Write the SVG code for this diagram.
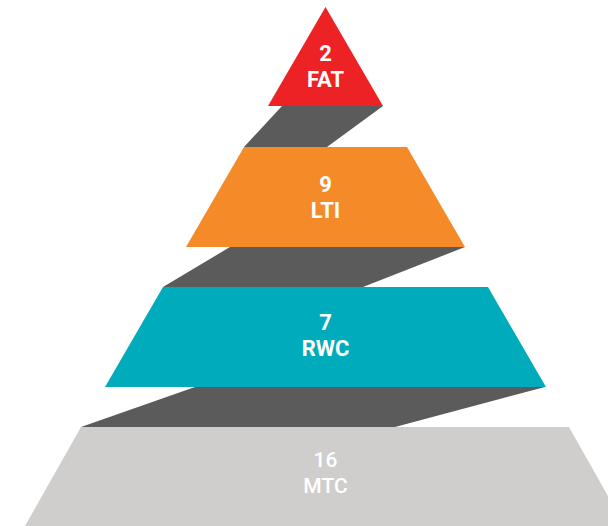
<svg xmlns="http://www.w3.org/2000/svg" width="608" height="526" viewBox="0 0 608 526">
<style>
.band{fill:#5b5b5b}
.lbl{font-family:Roboto,"Liberation Sans",sans-serif;font-size:22px;font-weight:700;fill:#ffffff;text-anchor:middle}
</style>
<rect width="608" height="526" fill="#ffffff"/>
<g id="connectors">
<polygon class="band" points="282,106 383,106 327,147 244,147"/>
<polygon class="band" points="230,247 465,247 363,287 163,287"/>
<polygon class="band" points="195,387 545,387 395,427 81,427"/>
</g>
<g id="fat">
<polygon points="325.5,7 383,106 268,106" fill="#ed2224"/>
<text class="lbl" x="325.5" y="61">2</text>
<text class="lbl" x="325.5" y="86.5">FAT</text>
</g>
<g id="lti">
<polygon points="244,147 407,147 465,247 186,247" fill="#f58a28"/>
<text class="lbl" x="325.5" y="192">9</text>
<text class="lbl" x="325.5" y="217.5">LTI</text>
</g>
<g id="rwc">
<polygon points="163,287 488,287 546,387 105,387" fill="#00acbb"/>
<text class="lbl" x="325.5" y="330">7</text>
<text class="lbl" x="325.5" y="355.5">RWC</text>
</g>
<g id="mtc">
<polygon points="81,427 569,427 625,526 25,526" fill="#cfcecc"/>
<text class="lbl" x="325.5" y="467" style="font-weight:500;font-size:21px">16</text>
<text class="lbl" x="325.5" y="492.5" style="font-weight:500;font-size:21px">MTC</text>
</g>
</svg>
